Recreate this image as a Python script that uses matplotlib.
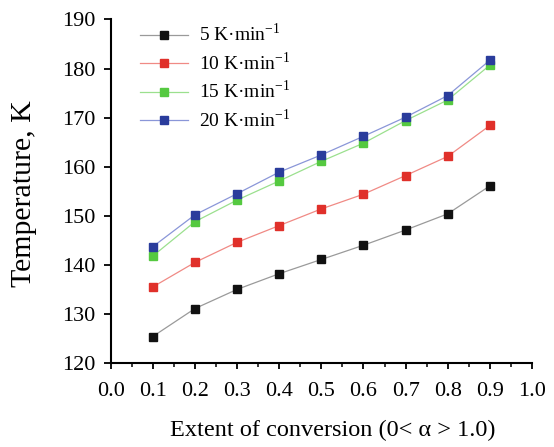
import matplotlib
matplotlib.use("Agg")
import matplotlib.pyplot as plt
from matplotlib.ticker import MultipleLocator, FormatStrFormatter

plt.rcParams['font.family'] = ['Liberation Serif', 'DejaVu Serif']
plt.rcParams['mathtext.fontset'] = 'custom'
plt.rcParams['mathtext.rm'] = 'Liberation Serif'

alpha = [0.1, 0.2, 0.3, 0.4, 0.5, 0.6, 0.7, 0.8, 0.9]
t5 = [125.4, 131.1, 135.0, 138.2, 141.1, 144.0, 147.1, 150.4, 156.1]
t10 = [135.5, 140.5, 144.6, 148.0, 151.4, 154.4, 158.2, 162.1, 168.4]
t15 = [141.8, 148.8, 153.2, 157.1, 161.1, 164.8, 169.4, 173.6, 180.7]
t20 = [143.7, 150.2, 154.5, 158.9, 162.4, 166.2, 170.1, 174.5, 181.7]
labels = ["5 K·min$^{-1}$", "10 K·min$^{-1}$", "15 K·min$^{-1}$", "20 K·min$^{-1}$"]
marker_colors = ["#111111", "#e0302a", "#55c940", "#2a3c9c"]
line_colors = ["#9a9a9a", "#f08a85", "#9be08e", "#8a96d8"]

fig = plt.figure(figsize=(5.54, 4.47), dpi=100)
ax = fig.add_axes([0.1998, 0.1879, 0.7605, 0.7685])

for ys, lab, mc, lc in zip([t5, t10, t15, t20], labels, marker_colors, line_colors):
    ax.plot(alpha, ys, color=lc, lw=0.9, marker='s', ms=5.3,
            markerfacecolor=mc, markeredgecolor=mc, label=lab)

ax.set_xlim(0.0, 1.0)
ax.set_ylim(120, 190)
ax.xaxis.set_major_locator(MultipleLocator(0.1))
ax.xaxis.set_minor_locator(MultipleLocator(0.05))
ax.yaxis.set_major_locator(MultipleLocator(10))
ax.xaxis.set_major_formatter(FormatStrFormatter('%.1f'))
ax.spines['top'].set_visible(False)
ax.spines['right'].set_visible(False)
ax.spines['left'].set_linewidth(1.5)
ax.spines['bottom'].set_linewidth(1.5)
ax.tick_params(axis='y', which='major', direction='out', length=5, width=1.3,
               labelsize=16, pad=6)
ax.tick_params(axis='x', which='major', direction='out', length=4, width=1.3,
               labelsize=16, pad=10)
ax.tick_params(axis='x', which='minor', direction='out', length=3, width=1.1)
ax.set_xlabel("Extent of conversion (0< α > 1.0)", fontsize=17.5)
ax.xaxis.set_label_coords(0.528, -0.165)
ax.set_ylabel("Temperature, K", fontsize=21.5)
ax.yaxis.set_label_coords(-0.174, 0.493)

leg = ax.legend(loc='upper left', bbox_to_anchor=(0.069, 0.99), frameon=False,
                borderpad=0, borderaxespad=0,
                fontsize=14, handlelength=2.5, labelspacing=0.3, handletextpad=0.55)

fig.savefig("out.png", dpi=100)
